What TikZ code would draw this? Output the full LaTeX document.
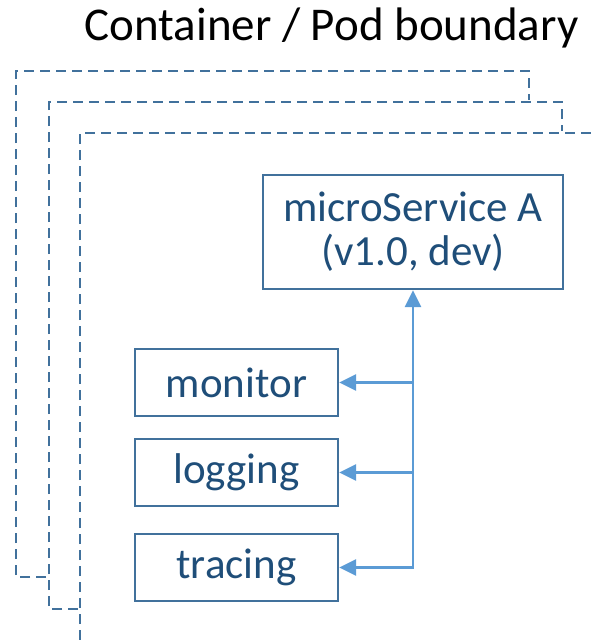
\documentclass[tikz,border=0pt]{standalone}
\usepackage{fontspec}
\setmainfont{Carlito}
\usetikzlibrary{arrows.meta}
\definecolor{edgeblue}{HTML}{41719C}
\definecolor{textblue}{HTML}{1F4E79}
\definecolor{arrowblue}{HTML}{5B9BD5}
\tikzset{
  x=1pt, y=-1pt,
  boundary/.style={draw=edgeblue, line width=2.4pt, dash pattern=on 10pt off 6pt},
  svcbox/.style={draw=edgeblue, line width=2.4pt, text=textblue, inner sep=0pt,
    align=center, font=\fontsize{43}{44}\selectfont},
  flow/.style={draw=arrowblue, line width=2.6pt, -{Triangle[length=17pt,width=16pt]}},
}
\begin{document}
\begin{tikzpicture}
\useasboundingbox (0,0) rectangle (591,640);

% nested pod / container boundaries
\draw[boundary] (46,577) -- (16,577) -- (16,71) -- (529,71) -- (529,100);
\draw[boundary] (78,609) -- (49,609) -- (49,102) -- (562,102) -- (562,131);
\draw[boundary] (80,640) -- (80,133) -- (591,133);

\node[anchor=base east, font=\fontsize{47}{54}\selectfont] (title) at (582,40) {Container / Pod boundary};

% service and sidecars
\node[svcbox, minimum width=300pt, minimum height=114pt] (ms) at (413,232) {microService A\\(v1.0, dev)};
\node[svcbox, minimum width=203pt, minimum height=67pt] (mon) at (236.5,382.5) {monitor};
\node[svcbox, minimum width=203pt, minimum height=67pt] (log) at (236.5,472.5) {logging};
\node[svcbox, minimum width=203pt, minimum height=67pt] (tra) at (236.5,567.5) {tracing};

% connectors
\draw[flow, {Triangle[length=17pt,width=16pt]}-{Triangle[length=17pt,width=16pt]}] (tra.east) -| (ms.south);
\draw[flow] (ms.south |- mon.east) -- (mon.east);
\draw[flow] (ms.south |- log.east) -- (log.east);
\end{tikzpicture}
\end{document}
